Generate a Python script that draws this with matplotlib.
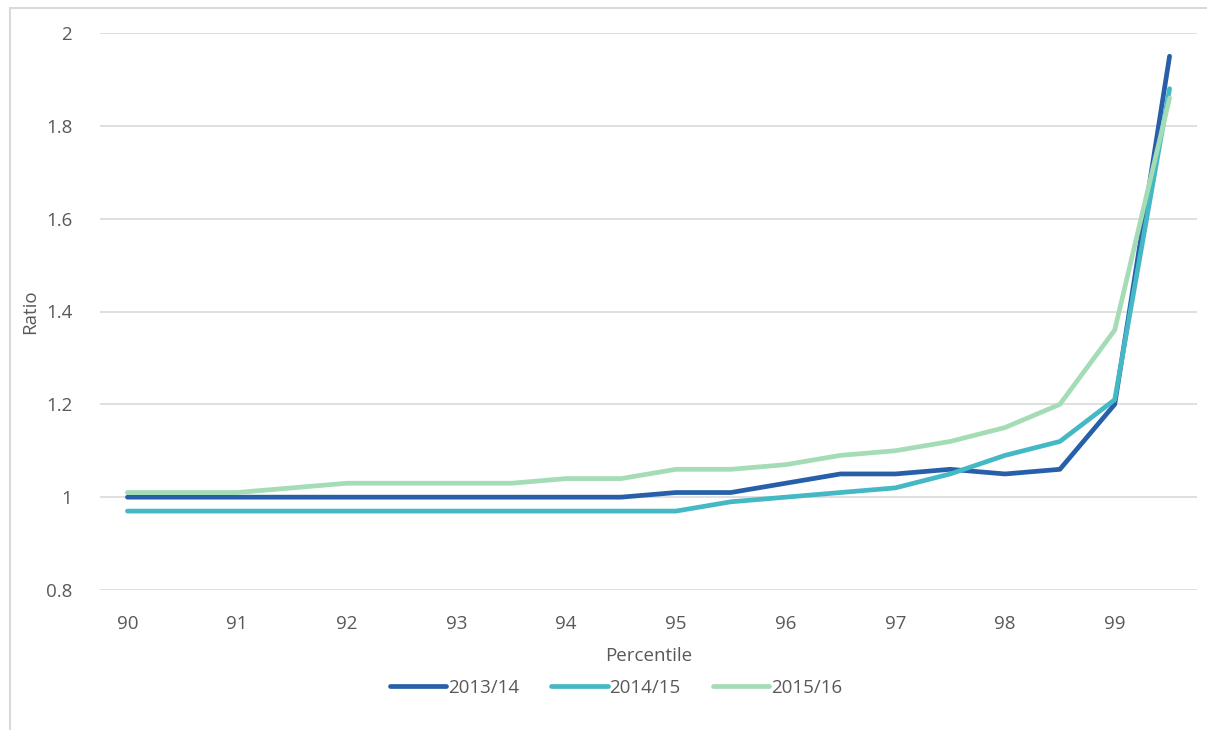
import matplotlib.pyplot as plt
from matplotlib.patches import Rectangle

percentiles = [90, 90.5, 91, 91.5, 92, 92.5, 93, 93.5, 94, 94.5,
               95, 95.5, 96, 96.5, 97, 97.5, 98, 98.5, 99, 99.5]
ratio_1314 = [1.00, 1.00, 1.00, 1.00, 1.00, 1.00, 1.00, 1.00, 1.00, 1.00,
              1.01, 1.01, 1.03, 1.05, 1.05, 1.06, 1.05, 1.06, 1.20, 1.95]
ratio_1415 = [0.97, 0.97, 0.97, 0.97, 0.97, 0.97, 0.97, 0.97, 0.97, 0.97,
              0.97, 0.99, 1.00, 1.01, 1.02, 1.05, 1.09, 1.12, 1.21, 1.88]
ratio_1516 = [1.01, 1.01, 1.01, 1.02, 1.03, 1.03, 1.03, 1.03, 1.04, 1.04,
              1.06, 1.06, 1.07, 1.09, 1.10, 1.12, 1.15, 1.20, 1.36, 1.86]
series_names = ['2013/14', '2014/15', '2015/16']
colors = ['#2760A8', '#45B8C6', '#A3DCB5']
y_ticks = [0.8, 1, 1.2, 1.4, 1.6, 1.8, 2]
y_labels = ['0.8', '1', '1.2', '1.4', '1.6', '1.8', '2']

plt.rcParams['font.family'] = ['Open Sans', 'DejaVu Sans']
txt = '#595959'
fs = 13.5

fig = plt.figure(figsize=(12.07, 7.3), dpi=100)
fig.patches.append(Rectangle((10 / 1207, -0.01), 1.02, 1 - 8 / 730 + 0.01,
                             transform=fig.transFigure, fill=False,
                             edgecolor='#D9D9D9', linewidth=1.5))
ax = fig.add_axes([100 / 1207, 1 - 590 / 730, 1097 / 1207, 557 / 730])

idx = list(range(len(percentiles)))
for vals, name, c in zip([ratio_1314, ratio_1415, ratio_1516], series_names, colors):
    ax.plot(idx, vals, color=c, linewidth=3.4, label=name,
            solid_capstyle='round', solid_joinstyle='round')

ax.set_xlim(-0.5, len(percentiles) - 0.5)
ax.set_ylim(0.8, 2.0)
ax.set_yticks(y_ticks)
ax.set_yticklabels(y_labels)
ax.set_xticks(idx[::2])
ax.set_xticklabels([str(int(p)) for p in percentiles[::2]])
ax.grid(axis='y', color='#D9D9D9', linewidth=1.2)
ax.set_axisbelow(True)
for s in ax.spines.values():
    s.set_visible(False)
ax.tick_params(length=0, labelsize=fs, labelcolor=txt)
ax.tick_params(axis='y', pad=20)
ax.tick_params(axis='x', pad=18)
ax.set_ylabel('Ratio', fontsize=fs, color=txt, labelpad=5)
ax.set_xlabel('Percentile', fontsize=fs, color=txt, labelpad=10)

leg = fig.legend(loc='center', bbox_to_anchor=(616 / 1207, 1 - 688 / 730), ncol=3,
                 frameon=False, fontsize=fs, handlelength=3.0, handletextpad=0.1,
                 columnspacing=1.7, labelcolor=txt)
for h in leg.get_lines():
    h.set_linewidth(3.4)

fig.savefig('out.png', dpi=100)
